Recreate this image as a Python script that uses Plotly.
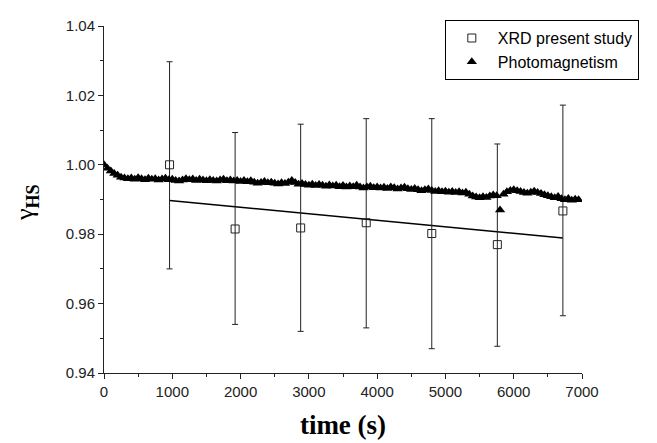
import plotly.graph_objects as go

# XRD present study (time in s, gamma_HS, error bar up / down)
xrd_t = [960, 1920, 2880, 3840, 4800, 5760, 6720]
xrd_y = [1.0000, 0.9815, 0.9818, 0.9833, 0.9802, 0.9770, 0.9867]
xrd_err_up = [0.0297, 0.0278, 0.0299, 0.0300, 0.0331, 0.0290, 0.0305]
xrd_err_dn = [0.0300, 0.0275, 0.0298, 0.0303, 0.0332, 0.0293, 0.0302]

# linear fit through the XRD points
fit_t = [960, 6720]
fit_y = [0.9897, 0.9789]

# photomagnetism, one point every 50 s
photo_t = list(range(0, 7000, 50))
photo_y = [
    1.0000, 0.9990, 0.9982, 0.9975, 0.9970, 0.9964, 0.9962, 0.9960, 0.9962, 0.9958,
    0.9963, 0.9960, 0.9957, 0.9961, 0.9958, 0.9960, 0.9956, 0.9959, 0.9961, 0.9957,
    0.9958, 0.9955, 0.9953, 0.9956, 0.9960, 0.9957, 0.9959, 0.9955, 0.9958, 0.9956,
    0.9954, 0.9957, 0.9955, 0.9953, 0.9956, 0.9958, 0.9954, 0.9956, 0.9953, 0.9955,
    0.9952, 0.9955, 0.9951, 0.9954, 0.9950, 0.9947, 0.9949, 0.9952, 0.9948, 0.9950,
    0.9947, 0.9945, 0.9948, 0.9946, 0.9950, 0.9955, 0.9949, 0.9944, 0.9946, 0.9943,
    0.9941, 0.9944, 0.9940, 0.9943, 0.9941, 0.9938, 0.9942, 0.9939, 0.9941, 0.9937,
    0.9940, 0.9936, 0.9939, 0.9937, 0.9941, 0.9936, 0.9933, 0.9936, 0.9938, 0.9934,
    0.9936, 0.9933, 0.9935, 0.9932, 0.9936, 0.9934, 0.9930, 0.9933, 0.9935, 0.9931,
    0.9929, 0.9932, 0.9928, 0.9925, 0.9928, 0.9930, 0.9926, 0.9923, 0.9925, 0.9922,
    0.9924, 0.9921, 0.9923, 0.9920, 0.9922, 0.9919, 0.9921, 0.9915, 0.9910, 0.9907,
    0.9905, 0.9908, 0.9906, 0.9910, 0.9913, 0.9911, 0.9870,
    0.9915, 0.9922, 0.9926, 0.9928, 0.9925, 0.9923, 0.9920, 0.9918, 0.9921, 0.9924,
    0.9920, 0.9917, 0.9914,
    0.9911, 0.9908, 0.9905, 0.9909, 0.9902, 0.9899, 0.9903, 0.9898, 0.9901, 0.9899,
]

fig = go.Figure()

fig.add_trace(go.Scatter(
    x=fit_t, y=fit_y, mode="lines", showlegend=False,
    line=dict(color="black", width=1.5)))

fig.add_trace(go.Scatter(
    x=xrd_t, y=xrd_y, mode="markers", name="XRD present study",
    marker=dict(symbol="square-open", size=8, color="#222", line=dict(width=1)),
    error_y=dict(type="data", array=xrd_err_up, arrayminus=xrd_err_dn,
                 color="#222", thickness=1, width=3)))

fig.add_trace(go.Scatter(
    x=photo_t, y=photo_y, mode="markers", name="Photomagnetism",
    marker=dict(symbol="triangle-up", size=9, color="black")))

# the page body has an 8 px margin, so the figure is a bit smaller
axis_font = dict(family="Liberation Sans, Arial", size=15, color="#222")
fig.update_layout(
    width=649, height=435,
    margin=dict(l=96, r=75, t=12, b=70),
    paper_bgcolor="white", plot_bgcolor="white",
    xaxis=dict(range=[0, 7000], tickvals=[0, 1000, 2000, 3000, 4000, 5000, 6000, 7000],
               automargin=False,
               showgrid=False, zeroline=False, showline=True, linecolor="#222",
               ticks="outside", ticklen=5, tickcolor="#222", tickfont=axis_font,
               minor=dict(dtick=500, ticks="outside", ticklen=3, tickcolor="#222"),
               title=dict(text="<b>time (s)</b>", standoff=16,
                          font=dict(family="Liberation Serif, Times New Roman", size=27, color="black"))),
    yaxis=dict(range=[0.94, 1.04], tickvals=[0.94, 0.96, 0.98, 1.00, 1.02, 1.04],
               tickformat=".2f", automargin=False,
               showgrid=False, zeroline=False, showline=True, linecolor="#222",
               ticks="outside", ticklen=5, tickcolor="#222", tickfont=axis_font,
               minor=dict(dtick=0.01, ticks="outside", ticklen=3, tickcolor="#222")),
    legend=dict(x=0.713, y=1.017, xanchor="left", yanchor="top",
                bordercolor="black", borderwidth=1, bgcolor="white",
                font=dict(family="Liberation Sans, Arial", size=16, color="black"),
                tracegroupgap=0, itemwidth=42),
)

# y-axis title placed by hand, further left than the axis title allows
fig.add_annotation(
    text="γ<sub><b>HS</b></sub>", xref="paper", yref="paper",
    x=-0.163, y=0.49, xanchor="center", yanchor="middle", textangle=-90,
    showarrow=False,
    font=dict(family="Liberation Serif, Times New Roman", size=26, color="black"))

fig.write_html("out.html")
